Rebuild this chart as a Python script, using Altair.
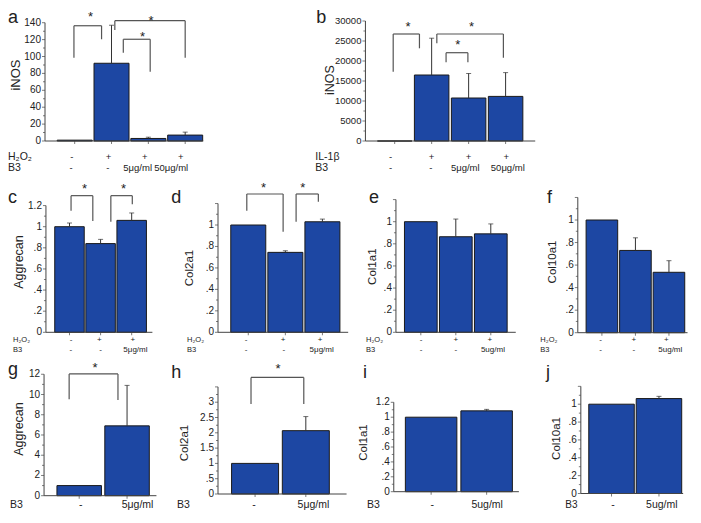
import altair as alt
import pandas as pd

# ---------------- data ----------------
a_vals = [1.0, 92.0, 3.0, 7.0]
a_errs = [0.0, 45.0, 1.5, 3.5]
b_vals = [0.0, 16500.0, 10750.0, 11150.0]
b_errs = [0.0, 9200.0, 6150.0, 5950.0]
c_vals = [1.0, 0.84, 1.06]
c_errs = [0.035, 0.04, 0.07]
d_vals = [1.0, 0.745, 1.03]
d_errs = [0.0, 0.015, 0.025]
e_vals = [1.0, 0.864, 0.89]
e_errs = [0.0, 0.16, 0.09]
f_vals = [1.0, 0.73, 0.536]
f_errs = [0.0, 0.112, 0.103]
g_vals = [1.0, 6.9]
g_errs = [0.0, 4.0]
h_vals = [1.0, 2.07]
h_errs = [0.0, 0.46]
i_vals = [1.0, 1.085]
i_errs = [0.0, 0.02]
j_vals = [1.0, 1.063]
j_errs = [0.0, 0.025]

# condition labels under the bars
a_row1 = ["-", "+", "+", "+"]
a_row2 = ["-", "-", "5μg/ml", "50μg/ml"]
b_row1 = ["-", "+", "+", "+"]
b_row2 = ["-", "-", "5μg/ml", "50μg/ml"]
c_row1 = ["-", "+", "+"]
c_row2 = ["-", "-", "5μg/ml"]
d_row1 = ["-", "+", "+"]
d_row2 = ["-", "-", "5μg/ml"]
e_row1 = ["-", "+", "+"]
e_row2 = ["-", "-", "5ug/ml"]
f_row1 = ["-", "+", "+"]
f_row2 = ["-", "-", "5ug/ml"]
g_row = ["-", "5μg/ml"]
h_row = ["-", "5μg/ml"]
i_row = ["-", "5ug/ml"]
j_row = ["-", "5ug/ml"]

# label anchor positions along each panel's x scale (bar index units)
a_row1_x = [0.92, 1.92, 2.90, 3.88]
a_row2_x = [0.90, 1.90, 2.71, 3.62]
b_row1_x = [0.89, 2.0, 3.0, 4.02]
b_row2_x = [0.89, 1.98, 2.91, 4.06]
c_row1_x = [1.05, 1.96, 3.04]
c_row2_x = [1.04, 2.0, 3.12]
d_row1_x = [0.94, 1.94, 2.94]
d_row2_x = [0.94, 1.96, 2.98]
e_row1_x = [1.01, 2.0, 2.97]
e_row2_x = [1.01, 2.0, 3.06]
f_row1_x = [0.96, 1.95, 2.92]
f_row2_x = [0.96, 1.95, 3.04]
g_row_x = [1.03, 2.22]
h_row_x = [0.98, 2.15]
i_row_x = [1.02, 2.01]
j_row_x = [1.03, 2.06]

# significance brackets: (x_left, x_right, y_top, y_left_end, y_right_end)
a_brackets = [(0.98, 1.73, 136.4, 98.6, 120.4),
              (2.09, 4.0, 142.4, 131.4, 98.6),
              (2.32, 3.05, 120.4, 104.5, 82.0)]
a_stars = [(1.43, 151.1), (3.07, 145.9), (2.84, 127.5)]
b_brackets = [(0.96, 1.67, 26750, 17325, 23175),
              (2.14, 3.94, 26750, 24425, 20825),
              (2.39, 2.98, 22075, 19675, 19675)]
b_stars = [(1.36, 29425), (3.08, 29500), (2.71, 24825)]
c_brackets = [(1.05, 1.75, 1.294, 1.151, 1.054),
              (2.33, 3.02, 1.294, 1.047, 1.212)]
c_stars = [(1.48, 1.388), (2.74, 1.388)]
d_brackets = [(0.96, 1.94, 1.289, 1.133, 0.9375),
              (2.29, 2.89, 1.289, 1.031, 1.217)]
d_stars = [(1.41, 1.373), (2.47, 1.373)]
g_brackets = [(0.79, 1.81, 12.03, 9.53, 9.46)]
g_stars = [(1.33, 13.0)]
h_brackets = [(0.92, 1.96, 3.81, 2.94, 2.94)]
h_stars = [(1.45, 4.19)]

# ---------------- style / layout ----------------
FONT = "Liberation Sans"
BAR = "#1d47a3"
INK = "#222222"
LINE = "#444444"
COL_X = [40, 212.7, 389, 573]
COL_W = [172.7, 176.3, 184, 119]
ROW_TOP = [20, 195, 370]
ROW_H = [175, 175, 137]
R3 = -5    # small upward shift of the bottom row so the page does not overflow
RJ = -6.5  # panel j a little more, to keep its "0" clear of the "B3" label
ONE = pd.DataFrame({"d": [0]})


def fmt(v):
    if v == 0:
        return "0"
    if v < 1:
        return ("%.1f" % v)[1:]
    return "%g" % v


def txt(t, px, py, size, align="left", baseline="alphabetic", angle=0):
    return alt.Chart(ONE).mark_text(
        text=t, fontSize=size, font=FONT, align=align, baseline=baseline,
        angle=angle, color=INK
    ).encode(x=alt.value(px), y=alt.value(py))


def panel(L, vals, errs, title, conds, csize, groups, gsize,
          brackets=(), stars=(), anchor=False):
    col, r = L["col"], L["row"]
    top, H = ROW_TOP[r], ROW_H[r]
    X0, W = COL_X[col], COL_W[col]
    dx = L["dx"]
    xmin = 1 - (L["xc1"] - X0) / dx
    xmax = xmin + W / dx
    xax = 1 - (L["xc1"] - L["AX"]) / dx
    xend = 1 + (L["xend"] - L["xc1"]) / dx
    k = L["k"]
    ymin = -(top + H - L["y0"]) / k
    ymax = (L["y0"] - top) / k
    xs = alt.Scale(domain=[xmin, xmax], nice=False, zero=False)
    ys = alt.Scale(domain=[ymin, ymax], nice=False, zero=False)

    def X(f):
        return alt.X(f, scale=xs, axis=None)

    def Y(f):
        return alt.Y(f, scale=ys, axis=None)

    n = len(vals)
    df = pd.DataFrame({
        "x": list(range(1, n + 1)),
        "v": vals,
        "e": errs,
        "top": [v + e for v, e in zip(vals, errs)],
        "z": [0.0] * n,
    })

    major, minor, lmax, axtop = L["major"], L["minor"], L["lmax"], L["axtop"]
    nt = int(round(axtop / minor))
    tick_vals = [round(i * minor, 6) for i in range(nt + 1)]
    is_major = [abs(v / major - round(v / major)) < 1e-3 for v in tick_vals]
    label_vals = [v for v, m in zip(tick_vals, is_major) if m and v <= lmax + 1e-9]

    layers = []
    layers.append(
        alt.Chart(df).mark_bar(size=L["bw"], color=BAR, stroke="#1a1a1a", strokeWidth=1)
        .encode(x=X("x:Q"), y=Y("v:Q"), y2="z:Q")
    )
    err = alt.Chart(df).transform_filter("datum.e > 0")
    layers.append(err.mark_rule(color="#333333", strokeWidth=1)
                  .encode(x=X("x:Q"), y=Y("v:Q"), y2="top:Q"))
    layers.append(err.mark_tick(orient="horizontal", size=5, thickness=1, color="#333333")
                  .encode(x=X("x:Q"), y=Y("top:Q")))
    # axis lines
    layers.append(alt.Chart(pd.DataFrame({"x": [xax], "y": [0.0], "y2": [axtop]}))
                  .mark_rule(color=LINE, strokeWidth=1)
                  .encode(x=X("x:Q"), y=Y("y:Q"), y2="y2:Q"))
    layers.append(alt.Chart(pd.DataFrame({"x": [xax], "x2": [xend], "y": [0.0]}))
                  .mark_rule(color=LINE, strokeWidth=1)
                  .encode(x=X("x:Q"), x2="x2:Q", y=Y("y:Q")))
    layers.append(alt.Chart(pd.DataFrame({"x": list(range(1, n + 1)), "y": [0.0] * n}))
                  .mark_tick(orient="vertical", size=3, thickness=1, yOffset=1.5, color=LINE)
                  .encode(x=X("x:Q"), y=Y("y:Q")))
    # y ticks (major and minor), pointing outward, and tick labels
    tdf = pd.DataFrame({"x": [xax] * len(tick_vals), "y": tick_vals,
                        "m": ["major" if m else "minor" for m in is_major]})
    layers.append(alt.Chart(tdf).transform_filter("datum.m == 'major'")
                  .mark_tick(orient="horizontal", size=3, thickness=1, xOffset=-1.5, color=LINE)
                  .encode(x=X("x:Q"), y=Y("y:Q")))
    layers.append(alt.Chart(tdf).transform_filter("datum.m == 'minor'")
                  .mark_tick(orient="horizontal", size=2, thickness=1, xOffset=-1, color=LINE)
                  .encode(x=X("x:Q"), y=Y("y:Q")))
    ldf = pd.DataFrame({"x": [xax] * len(label_vals), "y": label_vals,
                        "t": [fmt(v) for v in label_vals]})
    layers.append(alt.Chart(ldf).mark_text(fontSize=L.get("lfs", 10), font=FONT, color=INK,
                                           align="right", baseline="middle", dx=-4)
                  .encode(x=X("x:Q"), y=Y("y:Q"), text="t:N"))
    # brackets
    if brackets:
        segs = []
        for xl, xr, yt, yl, yr in brackets:
            segs.append({"x": xl, "x2": xr, "y": yt, "y2": yt})
            segs.append({"x": xl, "x2": xl, "y": yt, "y2": yl})
            segs.append({"x": xr, "x2": xr, "y": yt, "y2": yr})
        layers.append(alt.Chart(pd.DataFrame(segs)).mark_rule(color="#555555", strokeWidth=1.2)
                      .encode(x=X("x:Q"), x2="x2:Q", y=Y("y:Q"), y2="y2:Q"))
    if stars:
        sdf = pd.DataFrame({"x": [s[0] for s in stars], "y": [s[1] for s in stars]})
        layers.append(alt.Chart(sdf).mark_text(text="*", fontSize=13, font=FONT, color=INK,
                                               baseline="alphabetic", dy=7.5)
                      .encode(x=X("x:Q"), y=Y("y:Q")))
    # condition labels
    for xs_, texts, py in conds:
        cdf = pd.DataFrame({"x": xs_, "t": texts})
        layers.append(alt.Chart(cdf).mark_text(fontSize=csize, font=FONT, color=INK,
                                               align="center", baseline="alphabetic")
                      .encode(x=X("x:Q"), y=alt.value(py - top), text="t:N"))
    for t, px, py in groups:
        layers.append(txt(t, px - X0, py - top, gsize))
    # y title and panel letter
    tt, tx, ty, tsz = title
    layers.append(txt(tt, tx - X0, ty - top, tsz, align="center", baseline="middle", angle=270))
    lt, lx, ly = L["letter"]
    layers.append(txt(lt, lx - X0, ly - top, 18))
    if anchor:
        layers.append(alt.Chart(ONE).mark_rule(opacity=0).encode(
            x=alt.value(8 - X0), x2=alt.value(8 - X0),
            y=alt.value(8 - top), y2=alt.value(8 - top)))
    return alt.layer(*layers).properties(width=W, height=H)


LA = dict(col=0, row=0, AX=40, xc1=71.5, dx=39.1, bw=35, xend=208, y0=141, k=0.845,
          axtop=140, lmax=140, major=20, minor=10, letter=("a", 8, 23))
LB = dict(col=1, row=0, AX=369, xc1=400, dx=39.2, bw=34.5, xend=549, y0=141, k=0.004,
          axtop=30000, lmax=30000, major=5000, minor=2500, letter=("b", 316, 23), lfs=9.5)
LC = dict(col=0, row=1, AX=41, xc1=66, dx=33, bw=29.5, xend=154, y0=332.3, k=105.6,
          axtop=1.2, lmax=1.2, major=0.2, minor=0.1, letter=("c", 8, 203.3))
LD = dict(col=1, row=1, AX=212.7, xc1=244.8, dx=39.3, bw=35, xend=350.7, y0=332.3, k=107.3,
          axtop=1.2, lmax=1.0, major=0.2, minor=0.1, letter=("d", 171, 203.3))
LE = dict(col=2, row=1, AX=390, xc1=416.3, dx=37, bw=32.7, xend=516.7, y0=332.3, k=110.6,
          axtop=1.2, lmax=1.0, major=0.2, minor=0.1, letter=("e", 368, 203.3))
LF = dict(col=3, row=1, AX=571.7, xc1=598, dx=36.6, bw=31.6, xend=691.5, y0=332.7, k=112.7,
          axtop=1.2, lmax=1.0, major=0.2, minor=0.1, letter=("f", 546, 203.3))
LG = dict(col=0, row=2, AX=39, xc1=76.3, dx=50.8, bw=44.5, xend=158.3, y0=500.7 + R3, k=10.12,
          axtop=12, lmax=12, major=2, minor=1, letter=("g", 8, 380 + R3))
LH = dict(col=1, row=2, AX=212.7, xc1=252, dx=53.8, bw=47, xend=349, y0=499 + R3, k=30.6,
          axtop=3.5, lmax=3, major=0.5, minor=0.25, letter=("h", 171, 383 + R3))
LI = dict(col=2, row=2, AX=387.7, xc1=427.2, dx=58.7, bw=51.5, xend=520, y0=496.7 + R3, k=74.5,
          axtop=1.2, lmax=1.2, major=0.2, minor=0.1, letter=("i", 362, 383 + R3))
LJ = dict(col=3, row=2, AX=575, xc1=608.5, dx=51.8, bw=45.5, xend=686.7, y0=500 + RJ, k=89.3,
          axtop=1.2, lmax=1.0, major=0.2, minor=0.1, letter=("j", 545, 383 + R3))

B3Y = 508
pa = panel(LA, a_vals, a_errs, ("iNOS", 16, 75, 13),
           [(a_row1_x, a_row1, 159.5), (a_row2_x, a_row2, 171)], 9.5,
           [("H₂O₂", 8, 159.5), ("B3", 8, 171)], 10.5, a_brackets, a_stars, anchor=True)
pb = panel(LB, b_vals, b_errs, ("iNOS", 330, 80, 12.5),
           [(b_row1_x, b_row1, 159.5), (b_row2_x, b_row2, 171)], 9.5,
           [("IL-1β", 315, 159.5), ("B3", 315, 171)], 10.5, b_brackets, b_stars)
pc = panel(LC, c_vals, c_errs, ("Aggrecan", 19, 262, 12.5),
           [(c_row1_x, c_row1, 342), (c_row2_x, c_row2, 352)], 8,
           [("H₂O₂", 13, 342), ("B3", 13, 352)], 7.5, c_brackets, c_stars)
pd_ = panel(LD, d_vals, d_errs, ("Col2a1", 190, 268, 11.5),
            [(d_row1_x, d_row1, 342), (d_row2_x, d_row2, 352)], 8,
            [("H₂O₂", 186.7, 342), ("B3", 186.7, 352)], 7.5, d_brackets, d_stars)
pe = panel(LE, e_vals, e_errs, ("Col1a1", 371.7, 266.7, 11.5),
           [(e_row1_x, e_row1, 342), (e_row2_x, e_row2, 352)], 8,
           [("H₂O₂", 365, 342), ("B3", 365, 352)], 7.5)
pf = panel(LF, f_vals, f_errs, ("Col10a1", 552.3, 262, 11.5),
           [(f_row1_x, f_row1, 342), (f_row2_x, f_row2, 352)], 8,
           [("H₂O₂", 539.3, 342), ("B3", 539.3, 352)], 7.5)
pg = panel(LG, g_vals, g_errs, ("Aggrecan", 19, 434 + R3, 12.5),
           [(g_row_x, g_row, B3Y)], 10.5, [("B3", 10, B3Y)], 10.5, g_brackets, g_stars)
ph = panel(LH, h_vals, h_errs, ("Col2a1", 184.3, 448 + R3, 11.5),
           [(h_row_x, h_row, B3Y)], 10.5, [("B3", 176.7, B3Y)], 10.5, h_brackets, h_stars)
pi = panel(LI, i_vals, i_errs, ("Col1a1", 363.3, 447.5 + R3, 11.5),
           [(i_row_x, i_row, B3Y)], 10.5, [("B3", 366, B3Y)], 10.5)
pj = panel(LJ, j_vals, j_errs, ("Col10a1", 556, 445 + RJ, 11.5),
           [(j_row_x, j_row, B3Y)], 10.5, [("B3", 564.3, B3Y)], 10)


def dummy(col):
    return alt.Chart(ONE).mark_rule(opacity=0).encode(
        x=alt.value(0), y=alt.value(0), y2=alt.value(1)
    ).properties(width=COL_W[col], height=ROW_H[0])


chart = alt.concat(pa, pb, dummy(2), dummy(3), pc, pd_, pe, pf, pg, ph, pi, pj,
                   columns=4, spacing=0).properties(
    align="each", bounds="flush", padding=0, background="white"
).configure_view(stroke=None)

chart.save("out.html", embed_options={"renderer": "svg", "actions": False})
